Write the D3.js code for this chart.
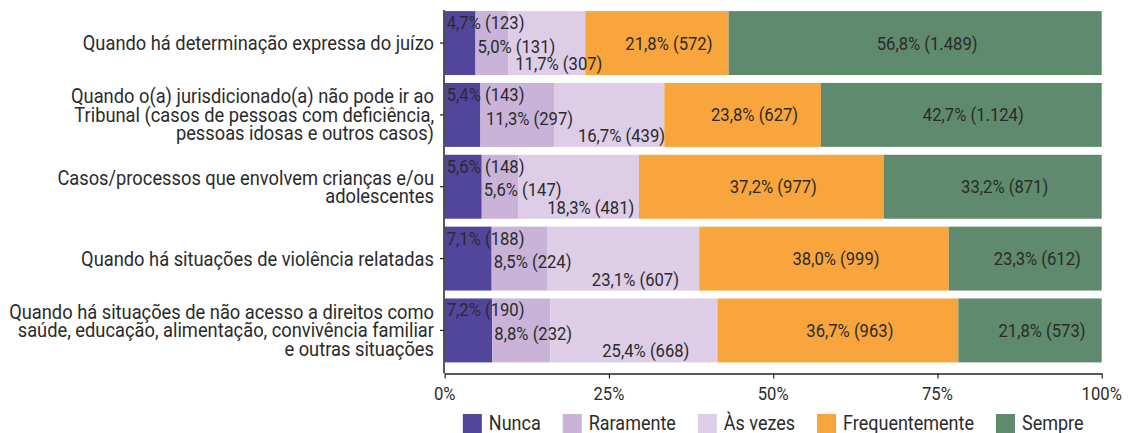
<!DOCTYPE html>
<html>
<head>
<meta charset="utf-8">
<script src="https://cdn.jsdelivr.net/npm/d3@7"></script>
<style>
  body { margin: 0; background: #fff; }
  svg { display: block; }
  text { font-family: Roboto, "Noto Sans", sans-serif; fill: #2b2b2b; }
</style>
</head>
<body>
<div class="chart-container"></div>
<script>
// categories, top to bottom
const categories = [
  ['Quando há determinação expressa do juízo'],
  ['Quando o(a) jurisdicionado(a) não pode ir ao', 'Tribunal (casos de pessoas com deficiência,', 'pessoas idosas e outros casos)'],
  ['Casos/processos que envolvem crianças e/ou', 'adolescentes'],
  ['Quando há situações de violência relatadas'],
  ['Quando há situações de não acesso a direitos como', 'saúde, educação, alimentação, convivência familiar', 'e outras situações']
];
const answers = ['Nunca', 'Raramente', 'Às vezes', 'Frequentemente', 'Sempre'];
const colors = ['#52459c', '#c9b3d9', '#ddcde6', '#f8a53d', '#5f8a6d'];

// counts per category (same order as answers)
const counts = [
  [123, 131, 307, 572, 1489],
  [143, 297, 439, 627, 1124],
  [148, 147, 481, 977, 871],
  [188, 224, 607, 999, 612],
  [190, 232, 668, 963, 573]
];
const percents = [
  ['4,7', '5,0', '11,7', '21,8', '56,8'],
  ['5,4', '11,3', '16,7', '23,8', '42,7'],
  ['5,6', '5,6', '18,3', '37,2', '33,2'],
  ['7,1', '8,5', '23,1', '38,0', '23,3'],
  ['7,2', '8,8', '25,4', '36,7', '21,8']
];
const xTicks = [0, 0.25, 0.5, 0.75, 1];
const xTickLabels = ['0%', '25%', '50%', '75%', '100%'];

const svg_width = 1129;
const svg_height = 433;
const sx = 0.9; // horizontal squeeze, close to a condensed face
const fmtCount = d => d3.format(',')(d).replace(',', '.');

const svg = d3.select('.chart-container')
  .append('svg')
  .attr('width', svg_width)
  .attr('height', svg_height);

const xScale = d3.scaleLinear([0, 1], [444.7, 1101.7]);
const yScale = d3.scaleBand()
  .domain(d3.range(categories.length))
  .range([7.5, 366])
  .paddingInner(0.11)
  .paddingOuter(0.05);
const bw = yScale.bandwidth();

function addText(g, x, y, str, size, anchor, scaleX) {
  const s = scaleX || sx;
  return g.append('text')
    .attr('transform', `translate(${x},${y}) scale(${s},1)`)
    .attr('dy', '0.35em')
    .attr('text-anchor', anchor || 'start')
    .style('font-size', size + 'px')
    .text(str);
}

// stacked rows
const rows = counts.map((c, i) => {
  const total = d3.sum(c);
  let acc = 0;
  return c.map((v, j) => {
    const seg = { row: i, k: j, x0: acc / total, x1: (acc + v) / total, count: v, pct: percents[i][j] };
    acc += v;
    return seg;
  });
});
const segs = rows.flat();

svg.append('g').selectAll('.bar')
  .data(segs)
  .join('rect')
  .attr('class', 'bar')
  .attr('x', d => xScale(d.x0))
  .attr('y', d => yScale(d.row))
  .attr('width', d => xScale(d.x1) - xScale(d.x0))
  .attr('height', bw)
  .attr('fill', d => colors[d.k]);

// segment labels (first three are staggered vertically)
const vpos = [0.18, 0.55, 0.82, 0.5, 0.5];
const labels = svg.append('g');
segs.forEach(d => {
  const t = addText(labels, 0, yScale(d.row) + bw * vpos[d.k], `${d.pct}% (${fmtCount(d.count)})`, 18.5, 'start');
  const w = t.node().getComputedTextLength() * sx;
  const left = Math.max((xScale(d.x0) + xScale(d.x1)) / 2 + 12 - w / 2, xScale(d.x0) + 2);
  t.attr('transform', `translate(${left},${yScale(d.row) + bw * vpos[d.k]}) scale(${sx},1)`);
});

// y axis
const yAxisG = svg.append('g');
yAxisG.append('line')
  .attr('x1', 444).attr('x2', 444)
  .attr('y1', 10).attr('y2', 373.5)
  .attr('stroke', '#222').attr('stroke-width', 1.5);
categories.forEach((lines, i) => {
  const cy = yScale(i) + bw / 2;
  yAxisG.append('line')
    .attr('x1', 440).attr('x2', 444)
    .attr('y1', cy).attr('y2', cy)
    .attr('stroke', '#222').attr('stroke-width', 1.2);
  const lh = 18.5;
  lines.forEach((ln, j) => {
    addText(yAxisG, 434, cy + (j - (lines.length - 1) / 2) * lh, ln, 20, 'end', 0.915);
  });
});

// x axis
const xAxisG = svg.append('g')
  .attr('transform', 'translate(0,373.5)')
  .call(d3.axisBottom(xScale).tickValues(xTicks).tickSizeInner(5).tickSizeOuter(0).tickFormat(''));
xAxisG.select('.domain').attr('stroke', '#222').attr('stroke-width', 1.5);
xAxisG.selectAll('.tick line').attr('stroke', '#222').attr('stroke-width', 1.2);
xTicks.forEach((v, i) => {
  addText(svg, xScale(v), 393.5, xTickLabels[i], 18.5, 'middle');
});

// legend, centred over the plot
const legend = svg.append('g');
const sq = 19, gapText = 7, gapItem = 22;
const items = answers.map((a, i) => {
  const t = addText(legend, 0, 422.5, a, 20, 'start');
  return { t, w: t.node().getComputedTextLength() * sx, i };
});
const totalW = d3.sum(items, d => sq + gapText + d.w) + gapItem * (items.length - 1);
let lx = (xScale(0) + xScale(1)) / 2 - totalW / 2;
items.forEach(d => {
  legend.append('rect')
    .attr('x', lx).attr('y', 414)
    .attr('width', sq).attr('height', sq)
    .attr('fill', colors[d.i]);
  d.t.attr('transform', `translate(${lx + sq + gapText},422.5) scale(${sx},1)`);
  lx += sq + gapText + d.w + gapItem;
});
</script>
</body>
</html>
